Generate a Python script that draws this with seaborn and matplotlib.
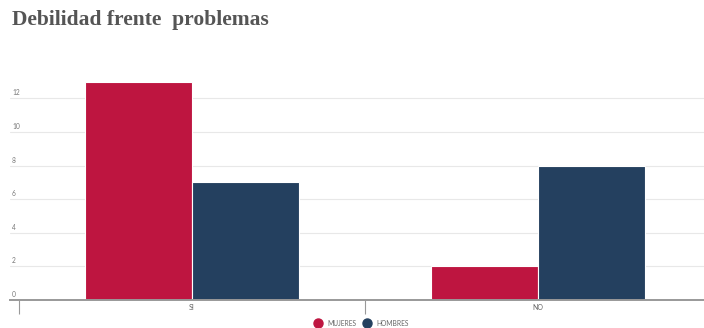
import matplotlib
matplotlib.use("Agg")
import matplotlib.pyplot as plt
import matplotlib.transforms as mtransforms
from matplotlib.lines import Line2D
import seaborn as sns
import pandas as pd

# Data
categories = ["SI", "NO"]
series_names = ["MUJERES", "HOMBRES"]
mujeres = [13, 2]
hombres = [7, 8]
y_ticks = [0, 2, 4, 6, 8, 10, 12]
colors = ["#BE1540", "#24405F"]

df = pd.DataFrame({
    "cat": categories * 2,
    "serie": [series_names[0]] * len(categories) + [series_names[1]] * len(categories),
    "valor": mujeres + hombres,
})

sns.set_theme(style="white")
plt.rcParams["font.family"] = ["Lato", "DejaVu Sans"]

fig = plt.figure(figsize=(7.04, 3.28), dpi=100)
ax = fig.add_axes([10 / 704, 28 / 328, 694 / 704, (300 - 64.8) / 328])

sns.barplot(data=df, x="cat", y="valor", hue="serie", order=categories,
            hue_order=series_names, palette=colors, width=0.62, saturation=1,
            edgecolor="white", linewidth=0.8, legend=False, ax=ax)

ax.set_xlim(-0.526, 1.48)
ax.set_ylim(0, 14)

# grid lines
ax.set_yticks(y_ticks)
ax.yaxis.grid(True, color="#e8e8e8", linewidth=0.8)
ax.set_axisbelow(True)
ax.tick_params(axis="y", length=0, labelleft=False)
offs = mtransforms.offset_copy(ax.get_yaxis_transform(), fig=fig, x=2, y=2, units="dots")
for t in y_ticks:
    ax.text(0.0, t, str(t), transform=offs, ha="left", va="bottom",
            fontsize=4.8, color="#777777")

# x axis
ax.set_xlabel("")
ax.set_ylabel("")
ax.set_xticks([0, 1])
ax.set_xticklabels(categories, fontsize=5, color="#666666")
ax.tick_params(axis="x", which="major", bottom=True, length=0, pad=3)
ax.set_xticks([-0.5, 0.5], minor=True)
ax.tick_params(axis="x", which="minor", bottom=True, length=10, width=0.8,
               color="#999999", direction="out")
for s in ["top", "right", "left"]:
    ax.spines[s].set_visible(False)
ax.spines["bottom"].set_color("#999999")
ax.spines["bottom"].set_linewidth(1.4)

# legend
handles = [Line2D([0], [0], marker="o", linestyle="", markersize=6.5,
                  markerfacecolor=c, markeredgecolor=c) for c in colors]
fig.legend(handles, series_names, loc="center", bbox_to_anchor=(362 / 704, 1 - 323 / 328),
           ncol=2, frameon=False, fontsize=4.8, handletextpad=0.9, columnspacing=1.1,
           labelcolor="#666666", borderaxespad=0, handlelength=1.0)

# title
fig.text(12 / 704, 1 - 20 / 328, "Debilidad frente  problemas", fontsize=15.5,
         fontweight="bold", color="#555555", family="Liberation Serif",
         ha="left", va="center")

fig.savefig("out.png", dpi=100)
